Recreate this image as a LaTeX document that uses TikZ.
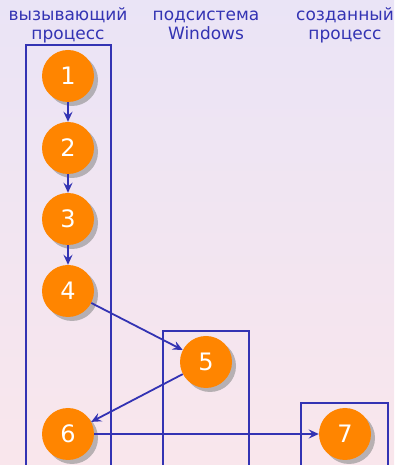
\documentclass[tikz,border=0pt]{standalone}
\usepackage{fontspec}
\setmainfont{DejaVu Sans}
\usetikzlibrary{shadows,arrows.meta}
\definecolor{bblue}{RGB}{51,51,179}
\definecolor{orng}{RGB}{255,133,0}
\definecolor{topbg}{RGB}{234,228,246}
\definecolor{botbg}{RGB}{249,230,236}
\tikzset{
  stepcirc/.style={circle, fill=orng, text=white, minimum size=52pt, inner sep=0pt,
    font=\fontsize{24}{24}\selectfont,
    drop shadow={shadow xshift=4pt, shadow yshift=-4pt, fill=black!45, opacity=0.6}},
  lane/.style={draw=bblue, line width=2pt},
  conn/.style={draw=bblue, line width=1.8pt, -{Stealth[length=10pt,width=9pt,inset=3.5pt]}},
  head/.style={text=bblue, align=center, font=\fontsize{17}{19}\selectfont}
}
\begin{document}
\begin{tikzpicture}[x=1pt,y=1pt]
\useasboundingbox (0,0) rectangle (394,465);
\clip (0,0) rectangle (394,465);
\shade[top color=topbg, bottom color=botbg] (0,0) rectangle (394,465);
\draw[lane] (26,-10) rectangle (111,420);
\draw[lane] (163,-10) rectangle (249,134);
\draw[lane] (301,-10) rectangle (388,62);
\node[head] (h1) at (68,440) {вызывающий\\процесс};
\node[head] (h2) at (206,440) {подсистема\\Windows};
\node[head] (h3) at (345,440) {созданный\\процесс};
\node[stepcirc] (n1) at (68,389) {1};
\node[stepcirc] (n2) at (68,317) {2};
\node[stepcirc] (n3) at (68,246) {3};
\node[stepcirc] (n4) at (68,174) {4};
\node[stepcirc] (n5) at (206,103) {5};
\node[stepcirc] (n6) at (68,31) {6};
\node[stepcirc] (n7) at (345,31) {7};
\draw[conn] (n1) -- (n2);
\draw[conn] (n2) -- (n3);
\draw[conn] (n3) -- (n4);
\draw[conn] (n4) -- (n5);
\draw[conn] (n5) -- (n6);
\draw[conn] (n6) -- (n7);
\end{tikzpicture}
\end{document}
